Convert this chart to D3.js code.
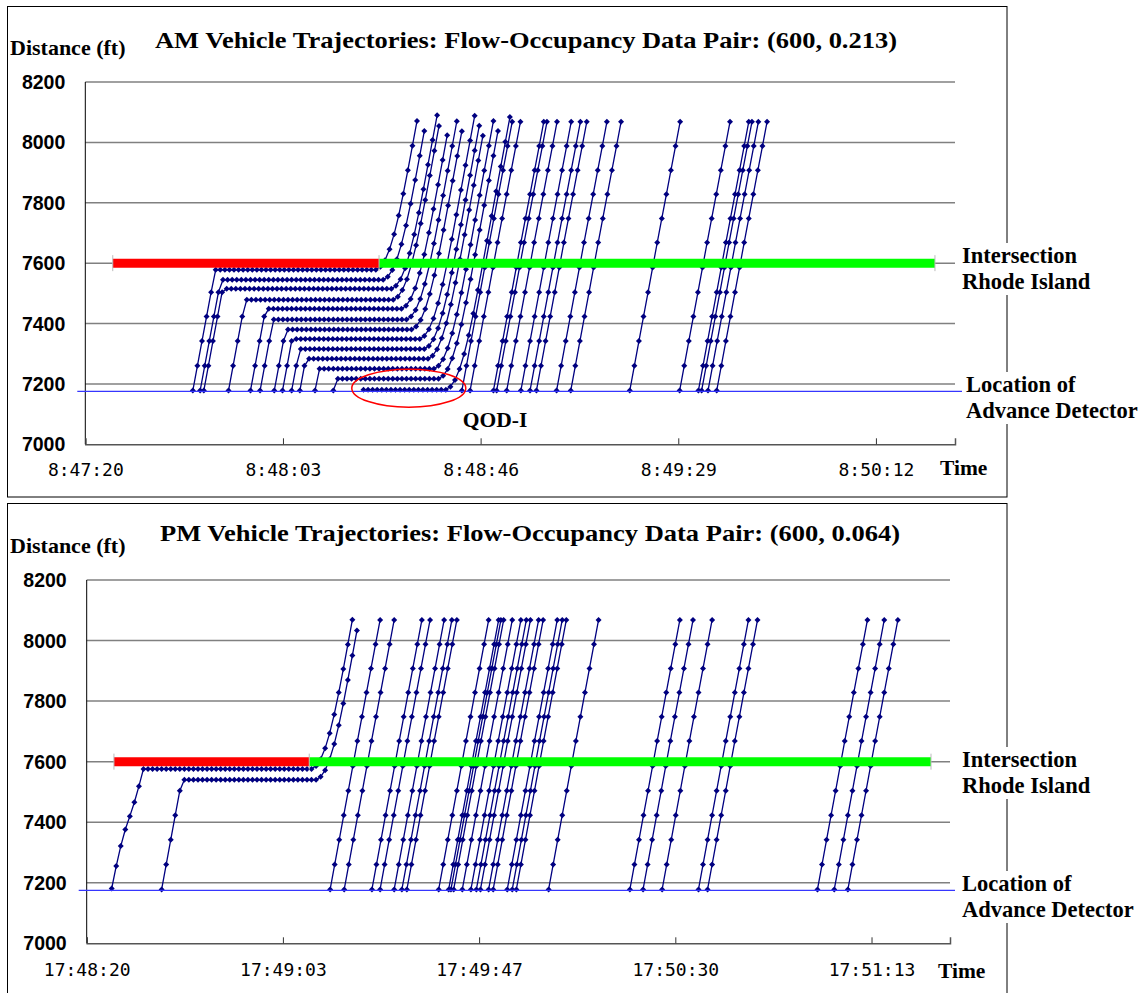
<!DOCTYPE html>
<html lang="en">
<head>
<meta charset="utf-8"/>
<title>AM / PM Vehicle Trajectories</title>
<script src="https://d3js.org/d3.v7.min.js"></script>
<style>
  body { margin: 0; background: #fff; }
  svg { display: block; }
</style>
</head>
<body>
<script>
// ---- values ----
// time is in seconds from the first axis label, distance in ft
var yTicks = [7000, 7200, 7400, 7600, 7800, 8000, 8200];
var tickSeconds = [0, 43.2, 86.4, 129.6, 172.8];
var amTickLabels = ["8:47:20", "8:48:03", "8:48:46", "8:49:29", "8:50:12"];
var pmTickLabels = ["17:48:20", "17:49:03", "17:49:47", "17:50:30", "17:51:13"];

// position of a car each second after it passes the detector (free flow)
var freeFlowProfile = [7178, 7260, 7342, 7423, 7504, 7586, 7668, 7748, 7828, 7908, 7988, 8068];
// ft gained each second by a car pulling away from the queue
var startUpSteps = [10, 22, 36, 50, 62, 72, 78, 81, 82, 82, 82, 82, 82, 82, 82, 82];
var detectorDist = 7175;
var lastDist = 8100;

// AM: cars that stop at the red light (arrival at detector, stop position, start time)
var amQueueArrive = [23.5, 25.1, 25.9, 31.3, 36.1, 38.2, 41.3, 43.1, 45.1, 46.9, 50.2, 54.2, 60.8];
var amQueueStop   = [7578, 7545, 7515, 7479, 7449, 7413, 7380, 7349, 7316, 7283, 7250, 7217, 7181];
var amQueueGo     = [64.4, 65.6, 67.0, 68.2, 69.5, 70.7, 71.9, 73.1, 74.3, 75.5, 76.7, 77.9, 79.0];
// AM: cars that pass without stopping (arrival at detector)
var amFreeArrive = [82.3, 84.1, 89.2, 89.9, 92.1, 95.2, 97.2, 98.6, 103.0, 106.1, 119.0, 129.9, 134.0, 134.7, 136.1, 138.0];
var amSignal = [6.0, 64.2, 185.7]; // red from, green from, green to

// PM
var pmQueueArrive = [5.5, 16.5];
var pmQueueStop   = [7576, 7540];
var pmQueueGo     = [50.2, 51.2];
var pmSlowApproach = [7181, 7255, 7321, 7376, 7420, 7466, 7519]; // first PM car brakes early
var pmFreeArrive = [53.6, 56.7, 62.8, 64.6, 67.7, 69.4, 70.5, 77.5, 79.7, 80.2, 80.8, 82.7, 84.6, 85.8, 86.7,
                    88.5, 89.5, 92.6, 93.7, 94.6, 101.7, 119.6, 122.5, 126.7, 134.7, 136.7, 160.9, 164.6, 167.6];
var pmSignal = [6.0, 49.0, 185.9];

// build the sampled trajectories (one point per second)
function freeTrajectory(tA) {
	return freeFlowProfile.map(function(d, k) { return [tA + k, d]; });
}

function queuedTrajectory(tA, dStop, tGo, approach) {
	var prof = approach || freeFlowProfile;
	var pts = [];
	var t = tA;
	for (var k = 0; k < prof.length && prof[k] < dStop - 5; k++) { pts.push([t, prof[k]]); t += 1; }
	while (t <= tGo) { pts.push([t, dStop]); t += 1; } // waiting in the queue
	var d = dStop;
	for (var j = 0; j < startUpSteps.length; j++) {
		d += startUpSteps[j];
		if (d > lastDist) break;
		pts.push([t, d]); t += 1;
	}
	return pts;
}

var amTracks = amQueueArrive.map(function(tA, i) {
	return queuedTrajectory(tA, amQueueStop[i], amQueueGo[i]);
}).concat(amFreeArrive.map(freeTrajectory));

var pmTracks = pmQueueArrive.map(function(tA, i) {
	return queuedTrajectory(tA, pmQueueStop[i], pmQueueGo[i], i == 0 ? pmSlowApproach : null);
}).concat(pmFreeArrive.map(freeTrajectory));

var W = 1148, H = 993;
var svg = d3.select("body").append("svg").attr("width", W).attr("height", H);

var serif = "'Liberation Serif', 'Times New Roman', serif";
var navy = "#000080";

function drawPanel(p) {
	var g = svg.append("g");

	// chart frame
	g.append("rect")
		.attr("x", p.frame[0]).attr("y", p.frame[1])
		.attr("width", p.frame[2]).attr("height", p.frame[3])
		.attr("fill", "none").attr("stroke", "#000").attr("stroke-width", 1);

	var x = d3.scaleLinear().domain([0, 190.08]).range([p.left, p.right]);
	var y = d3.scaleLinear().domain([7000, 8200]).range([p.bottom, p.top]);

	// gridlines
	g.append("g").selectAll("line")
		.data(yTicks.slice(1))
		.enter().append("line")
		.attr("x1", p.left).attr("x2", p.right)
		.attr("y1", function(d) { return y(d); })
		.attr("y2", function(d) { return y(d); })
		.attr("stroke", "#808080").attr("stroke-width", 1.5);

	// y axis line + labels
	g.append("line")
		.attr("x1", p.left).attr("x2", p.left)
		.attr("y1", p.top).attr("y2", p.bottom)
		.attr("stroke", "#000").attr("stroke-width", 1);
	g.append("g").selectAll("text")
		.data(yTicks)
		.enter().append("text")
		.attr("x", p.left - 20)
		.attr("y", function(d) { return y(d) + 7; })
		.attr("text-anchor", "end")
		.attr("font-family", "'Liberation Sans', Arial, sans-serif")
		.attr("font-weight", "bold")
		.attr("font-size", "19.5px")
		.text(function(d) { return d; });

	// x axis: ticks point up, labels from the picture
	var xAxis = d3.axisTop(x)
		.tickValues(tickSeconds)
		.tickSize(6)
		.tickFormat(function(d, i) { return p.tickLabels[i]; });
	var ax = g.append("g").attr("transform", "translate(0," + p.bottom + ")").call(xAxis);
	ax.select(".domain").attr("stroke", "#555").attr("stroke-width", 1.5);
	ax.selectAll(".tick line").attr("stroke", "#333");
	ax.selectAll(".tick text")
		.attr("y", p.labelDy)
		.attr("font-family", "'DejaVu Sans Mono', monospace")
		.attr("font-size", "18px")
		.attr("fill", "#000");

	// trajectories
	var line = d3.line()
		.x(function(d) { return x(d[0]); })
		.y(function(d) { return y(d[1]); });

	g.append("g").selectAll("path")
		.data(p.tracks)
		.enter().append("path")
		.attr("d", line)
		.attr("fill", "none")
		.attr("stroke", navy)
		.attr("stroke-width", 1.3);

	var pts = [];
	p.tracks.forEach(function(tr) { tr.forEach(function(d) { pts.push(d); }); });
	g.append("g").selectAll("path")
		.data(pts)
		.enter().append("path")
		.attr("transform", function(d) { return "translate(" + x(d[0]) + "," + y(d[1]) + ")"; })
		.attr("d", "M0,-3L3,0L0,3L-3,0Z")
		.attr("fill", navy);

	// signal bars at the stop line
	var sig = g.append("g");
	sig.append("line")
		.attr("x1", x(p.signal[0])).attr("x2", x(p.signal[1]))
		.attr("y1", y(7600)).attr("y2", y(7600))
		.attr("stroke", "#ff0000").attr("stroke-width", 9);
	sig.append("line")
		.attr("x1", x(p.signal[1])).attr("x2", x(p.signal[2]))
		.attr("y1", y(7600)).attr("y2", y(7600))
		.attr("stroke", "#00ff00").attr("stroke-width", 9);
	sig.selectAll(".mk")
		.data(p.signal)
		.enter().append("line")
		.attr("x1", function(d) { return x(d); }).attr("x2", function(d) { return x(d); })
		.attr("y1", y(7600) - 8).attr("y2", y(7600) + 8)
		.attr("stroke", "#bbb").attr("stroke-width", 1);

	// detector line
	g.append("line")
		.attr("x1", p.left - 8).attr("x2", p.right + p.detExt)
		.attr("y1", y(detectorDist)).attr("y2", y(detectorDist))
		.attr("stroke", "#3636ff").attr("stroke-width", 1.2);

	// texts
	g.append("text")
		.attr("x", p.titleX).attr("y", p.titleY)
		.attr("text-anchor", "middle")
		.attr("font-family", serif).attr("font-weight", "bold").attr("font-size", "24px")
		.attr("textLength", p.titleLen).attr("lengthAdjust", "spacingAndGlyphs")
		.text(p.title);
	g.append("text")
		.attr("x", 10).attr("y", p.distY)
		.attr("font-family", serif).attr("font-weight", "bold").attr("font-size", "22px")
		.text("Distance (ft)");
	g.append("text")
		.attr("x", p.timeX).attr("y", p.timeY)
		.attr("font-family", serif).attr("font-weight", "bold").attr("font-size", "21.5px")
		.text("Time");

	var side = [["Intersection", p.sideX1, p.sideY1], ["Rhode Island", p.sideX1, p.sideY1 + 26],
	            ["Location of", p.sideX2, p.sideY2], ["Advance Detector", p.sideX2, p.sideY2 + 26]];
	g.append("rect").attr("x", p.sideX1 - 3).attr("y", p.sideY1 - 20).attr("width", 140).attr("height", 52).attr("fill", "#fff");
	g.append("rect").attr("x", p.sideX2 - 3).attr("y", p.sideY2 - 20).attr("width", 182).attr("height", 52).attr("fill", "#fff");
	g.append("g").selectAll("text")
		.data(side)
		.enter().append("text")
		.attr("x", function(d) { return d[1]; })
		.attr("y", function(d) { return d[2]; })
		.attr("font-family", serif).attr("font-weight", "bold").attr("font-size", "22.5px")
		.text(function(d) { return d[0]; });

	return { x: x, y: y, g: g };
}

var am = drawPanel({
	frame: [7.5, 6.5, 999.5, 490.5],
	left: 85.3, right: 955, top: 82, bottom: 444.3, labelDy: 32,
	tickLabels: amTickLabels, tracks: amTracks, signal: amSignal, detExt: 7,
	title: "AM Vehicle Trajectories: Flow-Occupancy Data Pair: (600, 0.213)", titleX: 526, titleY: 48, titleLen: 742,
	distY: 55, timeX: 940, timeY: 475,
	sideX1: 962, sideY1: 263, sideX2: 966, sideY2: 392
});

var pm = drawPanel({
	frame: [7.5, 503.5, 999.5, 500],
	left: 86.7, right: 950, top: 580, bottom: 943.3, labelDy: 33,
	tickLabels: pmTickLabels, tracks: pmTracks, signal: pmSignal, detExt: 5,
	title: "PM Vehicle Trajectories: Flow-Occupancy Data Pair: (600, 0.064)", titleX: 530, titleY: 541, titleLen: 740,
	distY: 553, timeX: 938, timeY: 978,
	sideX1: 962, sideY1: 767, sideX2: 962, sideY2: 891
});

// queue-over-detector mark on the AM panel
am.g.append("ellipse")
	.attr("cx", am.x(70.7)).attr("cy", am.y(7186))
	.attr("rx", 57).attr("ry", 19)
	.attr("fill", "none").attr("stroke", "#ff0000").attr("stroke-width", 1.5);
am.g.append("text")
	.attr("x", 495).attr("y", 427)
	.attr("text-anchor", "middle")
	.attr("font-family", serif).attr("font-weight", "bold").attr("font-size", "21.5px")
	.text("QOD-I");
</script>
</body>
</html>
